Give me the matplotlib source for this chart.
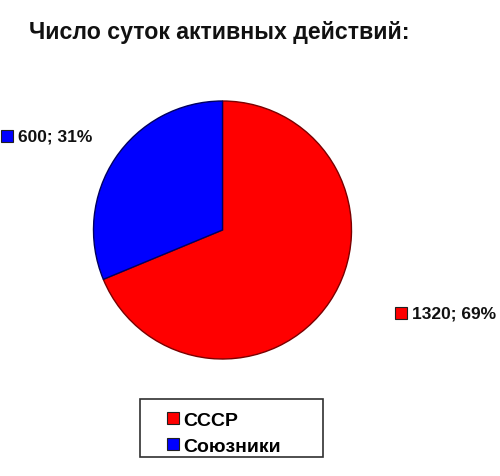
import matplotlib.pyplot as plt
from matplotlib.patches import Rectangle

plt.rcParams['font.family'] = ['Liberation Sans', 'DejaVu Sans']
plt.rcParams['font.weight'] = 'bold'

title = "Число суток активных действий:"
categories = ["СССР", "Союзники"]
days = [1320, 600]
shares = [69, 31]
colors = ["#ff0000", "#0000ff"]
edges = ["#7a0000", "#000060"]

W, H = 500, 477
fig = plt.figure(figsize=(W / 100, H / 100), dpi=100)

# pie axes: centre (222.5, 231) px, radius 129 px
cx, cy, r = 222.5, 231, 129
ax = fig.add_axes([(cx - r) / W, (H - cy - r) / H, 2 * r / W, 2 * r / H])
wedges, _ = ax.pie(days, colors=colors, startangle=90, counterclock=False,
                   radius=1, wedgeprops=dict(linewidth=1))
for w, ec in zip(wedges, edges):
    w.set_edgecolor(ec)
ax.set_xlim(-1, 1)
ax.set_ylim(-1, 1)
ax.set_aspect('equal')

# data labels (square marker + "value; percent")
label_pos = [(1.469, -0.643), (-1.585, 0.729)]
for (lx, ly), v, s, c in zip(label_pos, days, shares, colors):
    ax.plot(lx - 0.085, ly, marker='s', markersize=8, color=c,
            markeredgecolor='#202020', markeredgewidth=0.8, clip_on=False)
    ax.text(lx, ly, f"{v}; {s}%", fontsize=12.5, fontweight='bold',
            ha='left', va='center', color='#111111', clip_on=False)

fig.text(219 / W, 1 - 32 / H, title, fontsize=16.7, fontweight='bold',
         ha='center', va='center', color='#111111')

# legend with hand-drawn frame
fig.patches.append(Rectangle((140 / W, 1 - 458 / H), 183 / W, 58 / H,
                             transform=fig.transFigure, fill=False,
                             edgecolor='#303030', linewidth=1.2))
leg = fig.legend(wedges, categories, loc='upper left',
                 bbox_to_anchor=(151 / W, 1 - 397 / H), frameon=False,
                 prop=dict(size=14, weight='bold'),
                 handlelength=0.62, handleheight=0.62, handletextpad=0.25,
                 labelspacing=0.46, borderpad=0.3)
for h in leg.legend_handles:
    h.set_edgecolor('#202020')
    h.set_linewidth(0.8)

fig.savefig("out.png", dpi=100)
